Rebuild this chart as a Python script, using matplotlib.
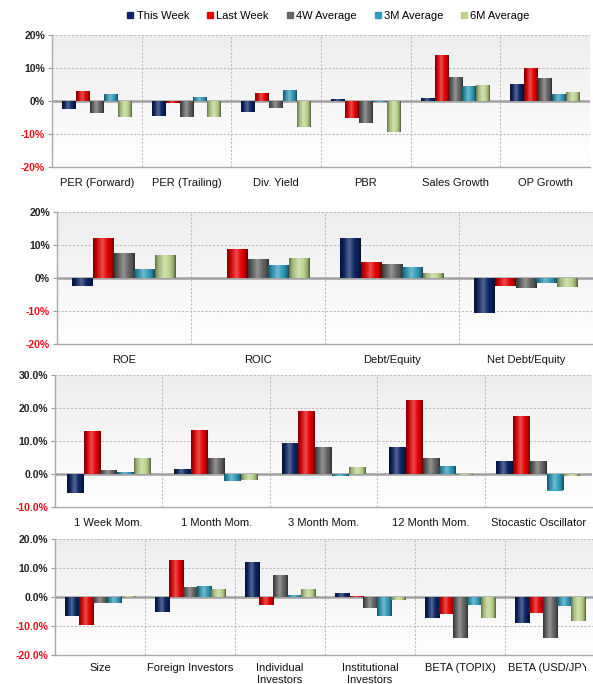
import numpy as np
import matplotlib
matplotlib.use('Agg')
import matplotlib.pyplot as plt
from matplotlib.colors import to_rgb
from matplotlib.lines import Line2D
from matplotlib.transforms import Bbox

plt.rcParams['font.family'] = ['Liberation Sans', 'DejaVu Sans']

# ── data (% values) ──────────────────────────────────────────────────────────
SERIES = ['This Week', 'Last Week', '4W Average', '3M Average', '6M Average']
COLORS = ['#0b2566', '#e60000', '#666666', '#2f9dbd', '#bcd48c']

cats1 = ['PER (Forward)', 'PER (Trailing)', 'Div. Yield', 'PBR', 'Sales Growth', 'OP Growth']
this_week1 = [-2.5, -4.5, -3.2, 0.5, 1.0, 5.3]
last_week1 = [3.0, -0.7, 2.5, -5.2, 14.0, 10.0]
avg4w1     = [-3.5, -5.0, -2.2, -6.8, 7.3, 7.0]
avg3m1     = [2.0, 1.3, 3.2, -0.4, 4.6, 2.2]
avg6m1     = [-5.0, -4.8, -7.8, -9.3, 5.0, 2.8]

cats2 = ['ROE', 'ROIC', 'Debt/Equity', 'Net Debt/Equity']
this_week2 = [-2.4, -0.1, 12.2, -10.5]
last_week2 = [12.2, 8.9, 5.0, -2.3]
avg4w2     = [7.6, 5.8, 4.2, -3.0]
avg3m2     = [2.7, 4.0, 3.3, -1.4]
avg6m2     = [7.1, 6.2, 1.5, -2.8]

cats3 = ['1 Week Mom.', '1 Month Mom.', '3 Month Mom.', '12 Month Mom.', 'Stocastic Oscillator']
this_week3 = [-5.8, 1.6, 9.3, 8.3, 4.0]
last_week3 = [12.9, 13.3, 19.0, 22.3, 17.7]
avg4w3     = [1.3, 4.9, 8.3, 4.9, 4.0]
avg3m3     = [0.5, -2.0, -0.7, 2.3, -5.0]
avg6m3     = [4.7, -1.8, 2.2, -0.3, -0.5]

cats4 = ['Size', 'Foreign Investors', 'Individual\nInvestors', 'Institutional\nInvestors',
         'BETA (TOPIX)', 'BETA (USD/JPY)']
this_week4 = [-6.7, -5.1, 11.9, 1.4, -7.2, -9.0]
last_week4 = [-9.7, 12.9, -2.7, 0.5, -5.8, -5.5]
avg4w4     = [-2.0, 3.4, 7.6, -3.7, -14.3, -14.0]
avg3m4     = [-2.1, 3.8, 0.7, -6.5, -2.7, -3.0]
avg6m4     = [0.3, 2.7, 2.8, -1.2, -7.4, -8.4]

yticks12 = [-20, -10, 0, 10, 20]
yticks3 = [-10, 0, 10, 20, 30]
yticks4 = [-20, -10, 0, 10, 20]

panels = [
    # (rect, cats, series, yticks, fmt, label pad)
    ([52/593, 1-167/684, 538/593, 132/684], cats1,
     [this_week1, last_week1, avg4w1, avg3m1, avg6m1], yticks12, '{:.0f}%', 8),
    ([57/593, 1-344/684, 536/593, 132/684], cats2,
     [this_week2, last_week2, avg4w2, avg3m2, avg6m2], yticks12, '{:.0f}%', 8),
    ([55/593, 1-507/684, 537/593, 132/684], cats3,
     [this_week3, last_week3, avg4w3, avg3m3, avg6m3], yticks3, '{:.1f}%', 8),
    ([55/593, 1-655/684, 540/593, 116/684], cats4,
     [this_week4, last_week4, avg4w4, avg3m4, avg6m4], yticks4, '{:.1f}%', 6),
]


def bar_gradient(color):
    # cylinder-like shading across the bar width
    c = np.array(to_rgb(color))
    pos = np.array([0.0, 0.15, 0.45, 0.7, 0.88, 1.0])
    fac = [c * 0.55, c * 0.85, c * 0.7 + 0.3, c, c * 0.8, c * 0.45]
    xs = np.linspace(0, 1, 32)
    rgb = np.stack([np.interp(xs, pos, [f[k] for f in fac]) for k in range(3)], axis=-1)
    return np.clip(rgb[None, :, :], 0, 1)


fig = plt.figure(figsize=(5.93, 6.84), dpi=100)
# the source image was cropped a little on the right
text_clip = Bbox.from_extents(0, 0, 586, 684)

for rect, cats, series, yticks, fmt, lpad in panels:
    ax = fig.add_axes(rect)
    n = len(cats)
    x = np.arange(n)
    w = 0.156

    # background gradient: light grey at top fading to white
    bg = np.linspace(0.93, 1.0, 64)[:, None]
    ax.imshow(np.dstack([bg, bg, bg]), extent=[0, 1, 0, 1], transform=ax.transAxes,
              aspect='auto', zorder=0, origin='upper')

    for s, (vals, col) in enumerate(zip(series, COLORS)):
        bars = ax.bar(x + (s - 2) * w, vals, w, color=col, edgecolor='none', zorder=3)
        grad = bar_gradient(col)
        for b in bars:
            x0, y0 = b.get_x(), b.get_y()
            x1, y1 = x0 + b.get_width(), y0 + b.get_height()
            im = ax.imshow(grad, extent=[x0, x1, min(y0, y1), max(y0, y1)],
                           aspect='auto', zorder=3.5, interpolation='bilinear')
            im.set_clip_path(b)

    ax.set_xlim(-0.5, n - 0.5)
    ax.set_ylim(yticks[0], yticks[-1])

    for yt in yticks[1:]:
        if yt != 0:
            ax.axhline(yt, color='#bdbdbd', lw=0.8, ls=(0, (2, 1.5)), zorder=1)
    for xb in np.arange(0.5, n - 0.5, 1):
        ax.axvline(xb, color='#bdbdbd', lw=0.8, ls=(0, (2, 1.5)), zorder=1)
    ax.axhline(0, color='#a0a0a0', lw=1.8, zorder=2)

    ax.set_yticks(yticks)
    ax.set_yticklabels([fmt.format(v) for v in yticks], fontsize=7.5, fontweight='bold')
    for lab, v in zip(ax.get_yticklabels(), yticks):
        lab.set_color('#e8111b' if v < 0 else '#222222')
    ax.tick_params(axis='y', length=3, width=0.8, color='#999999', pad=2)

    ax.set_xticks(x)
    ax.set_xticklabels(cats, fontsize=8, color='#111111', linespacing=1.15)
    ax.tick_params(axis='x', length=0, pad=lpad)
    for lab in ax.get_xticklabels():
        lab.set_clip_on(True)
        lab.set_clip_box(text_clip)

    for side in ['top', 'right']:
        ax.spines[side].set_visible(False)
    for side in ['left', 'bottom']:
        ax.spines[side].set_color('#aaaaaa')
        ax.spines[side].set_linewidth(1.0)

handles = [Line2D([], [], marker='s', ls='none', markersize=5, color=c,
                  markeredgecolor=c) for c in COLORS]
fig.legend(handles, SERIES, loc='center', bbox_to_anchor=(0.553, 0.977), ncol=5,
           frameon=False, fontsize=8, handletextpad=0.15, columnspacing=1.5,
           handlelength=0.8)

fig.savefig('out.png', dpi=100)
